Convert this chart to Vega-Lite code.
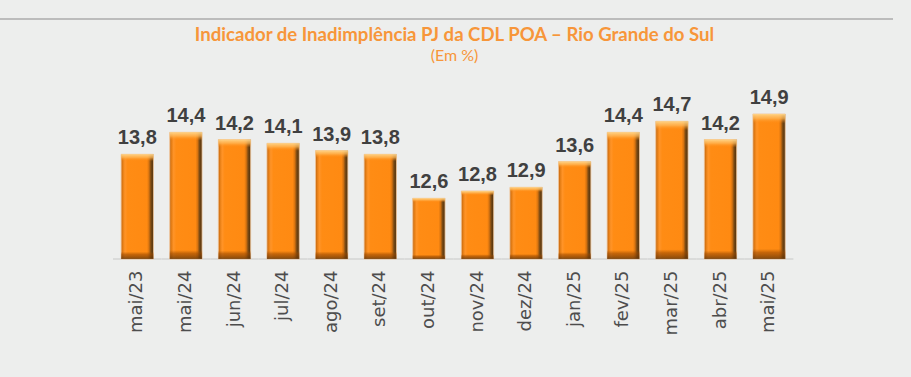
{
  "$schema": "https://vega.github.io/schema/vega-lite/v6.json",
  "width": 893,
  "height": 240,
  "autosize": {"type": "none"},
  "padding": {"left": 0, "top": 19, "right": 18, "bottom": 118},
  "background": "#edeeed",
  "title": {
    "text": "Indicador de Inadimplência PJ da CDL POA – Rio Grande do Sul",
    "subtitle": "(Em %)",
    "offset": -46,
    "anchor": "middle",
    "frame": "group",
    "dx": 8,
    "font": "Lato",
    "fontSize": 18.6,
    "fontWeight": "bold",
    "color": "#f7963a",
    "subtitleFont": "Lato",
    "subtitleFontSize": 16,
    "subtitleColor": "#f7963a",
    "subtitlePadding": 4
  },
  "config": {
    "view": {"stroke": null},
    "locale": {"number": {"decimal": ",", "thousands": ".", "grouping": [3], "currency": ["R$", ""]}}
  },
  "data": {
    "values": [
      {"mes": "mai/23", "v": 13.8},
      {"mes": "mai/24", "v": 14.4},
      {"mes": "jun/24", "v": 14.2},
      {"mes": "jul/24", "v": 14.1},
      {"mes": "ago/24", "v": 13.9},
      {"mes": "set/24", "v": 13.8},
      {"mes": "out/24", "v": 12.6},
      {"mes": "nov/24", "v": 12.8},
      {"mes": "dez/24", "v": 12.9},
      {"mes": "jan/25", "v": 13.6},
      {"mes": "fev/25", "v": 14.4},
      {"mes": "mar/25", "v": 14.7},
      {"mes": "abr/25", "v": 14.2},
      {"mes": "mai/25", "v": 14.9}
    ]
  },
  "encoding": {
    "x": {
      "field": "mes",
      "type": "nominal",
      "sort": null,
      "scale": {"type": "band", "range": [113, 793.4], "paddingInner": 0.335, "paddingOuter": 0.1675},
      "axis": {
        "title": null,
        "domain": false,
        "ticks": false,
        "labelAngle": -90,
        "labelFont": "DejaVu Sans",
        "labelFontSize": 18,
        "labelColor": "#4d4d4d",
        "labelPadding": 11
      }
    },
    "y": {
      "field": "v",
      "type": "quantitative",
      "scale": {"domain": [10.944, 17.49], "zero": false, "nice": false},
      "axis": null
    }
  },
  "layer": [
    {
      "mark": {"type": "tick", "size": 48.6, "thickness": 2, "color": "#dadbda", "opacity": 1},
      "encoding": {
        "y": {"datum": 10.944, "type": "quantitative", "scale": {"domain": [10.944, 17.49], "zero": false, "nice": false}, "axis": null}
      }
    },
    {
      "mark": {
        "type": "bar",
        "stroke": "#f2c79a",
        "strokeWidth": 0.8,
        "fill": {
          "gradient": "linear", "x1": 0, "y1": 0, "x2": 1, "y2": 0,
          "stops": [
            {"offset": 0, "color": "#c0640e"},
            {"offset": 0.06, "color": "#e88016"},
            {"offset": 0.12, "color": "#ff9428"},
            {"offset": 0.2, "color": "#ff8c14"},
            {"offset": 0.8, "color": "#ff8a12"},
            {"offset": 0.86, "color": "#d87410"},
            {"offset": 0.92, "color": "#7a4a14"},
            {"offset": 1, "color": "#4a2e0c"}
          ]
        }
      },
      "encoding": {
        "y2": {"datum": 10.944}
      }
    },
    {
      "mark": {
        "type": "bar",
        "fill": {
          "gradient": "linear", "x1": 0, "y1": 0, "x2": 0, "y2": 1,
          "stops": [
            {"offset": 0, "color": "rgba(255,215,140,0.95)"},
            {"offset": 0.03, "color": "rgba(255,185,90,0.75)"},
            {"offset": 0.065, "color": "rgba(255,140,20,0)"},
            {"offset": 0.93, "color": "rgba(160,80,0,0)"},
            {"offset": 0.955, "color": "rgba(150,70,0,0.55)"},
            {"offset": 1, "color": "rgba(90,50,10,0.75)"}
          ]
        }
      },
      "encoding": {
        "y2": {"datum": 10.944}
      }
    },
    {
      "mark": {"type": "text", "baseline": "alphabetic", "dy": -10, "font": "Liberation Sans", "fontSize": 20, "fontWeight": "bold", "color": "#404040"},
      "encoding": {
        "text": {"field": "v", "type": "quantitative", "format": ".1f"}
      }
    },
    {
      "mark": {"type": "rule", "color": "#bdbdbd", "strokeWidth": 1.5},
      "encoding": {
        "x": null,
        "y": {"datum": 17.49, "type": "quantitative", "scale": {"domain": [10.944, 17.49], "zero": false, "nice": false}, "axis": null}
      }
    }
  ]
}
